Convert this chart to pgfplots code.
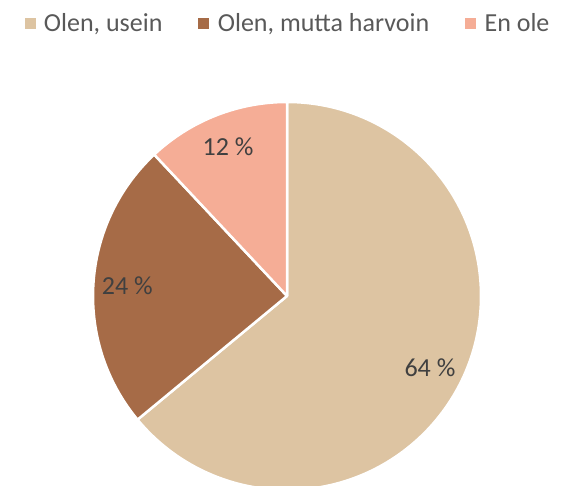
\documentclass[border=0pt]{standalone}
\usepackage{pgfplots}
\pgfplotsset{compat=1.18}
\usepackage{fontspec}
\setmainfont{Carlito}
\definecolor{cUsein}{HTML}{DDC4A2}
\definecolor{cHarvoin}{HTML}{A66B47}
\definecolor{cEnOle}{HTML}{F5AD96}
\definecolor{txt}{HTML}{404040}
\definecolor{legtxt}{HTML}{595959}

% shares in percent
\def\valA{64}
\def\valB{24}
\def\valC{12}
% pie centre and radius (axis units = pt)
\def\cx{287}
\def\cy{190}
\def\R{194}
\def\Rl{160}

\begin{document}
\begin{tikzpicture}
\begin{axis}[
    width=574pt, height=486pt,
    scale only axis,
    xmin=0, xmax=574, ymin=0, ymax=486,
    hide axis,
    clip=true,
    font=\fontsize{26}{30}\selectfont,
    legend columns=3,
    legend style={at={(axis cs:288,463)}, anchor=center, draw=none,
                  fill=none, text=legtxt,
                  /tikz/every odd column/.append style={column sep=7pt},
                  /tikz/every even column/.append style={column sep=34pt}},
    legend image code/.code={\fill[#1] (0pt,-5pt) rectangle (10pt,5pt);},
]
\addlegendimage{cUsein}
\addlegendentry{Olen, usein}
\addlegendimage{cHarvoin}
\addlegendentry{Olen, mutta harvoin}
\addlegendimage{cEnOle}
\addlegendentry{En ole}

\filldraw[fill=cUsein, draw=white, line width=2.5pt, line join=round]
  (axis cs:\cx,\cy) -- ++(90:\R)
  arc[start angle=90, end angle={90-3.6*\valA}, radius=\R] -- cycle;
\filldraw[fill=cHarvoin, draw=white, line width=2.5pt, line join=round]
  (axis cs:\cx,\cy) -- ++({90-3.6*\valA}:\R)
  arc[start angle={90-3.6*\valA}, end angle={90-3.6*(\valA+\valB)}, radius=\R] -- cycle;
\filldraw[fill=cEnOle, draw=white, line width=2.5pt, line join=round]
  (axis cs:\cx,\cy) -- ++({90-3.6*(\valA+\valB)}:\R)
  arc[start angle={90-3.6*(\valA+\valB)}, end angle=-270, radius=\R] -- cycle;

\path (axis cs:\cx,\cy) ++({90-3.6*\valA/2-1.5}:\Rl) node[text=txt] {\valA~\%};
\path (axis cs:\cx,\cy) ++({90-3.6*(\valA+\valB/2)}:\Rl) node[text=txt] {\valB~\%};
\path (axis cs:\cx,\cy) ++({90-3.6*(\valA+\valB+\valC/2)}:\Rl) node[text=txt] {\valC~\%};
\end{axis}
\pgfresetboundingbox
\path (current axis.south west) rectangle (current axis.north east);
\end{tikzpicture}
\end{document}
